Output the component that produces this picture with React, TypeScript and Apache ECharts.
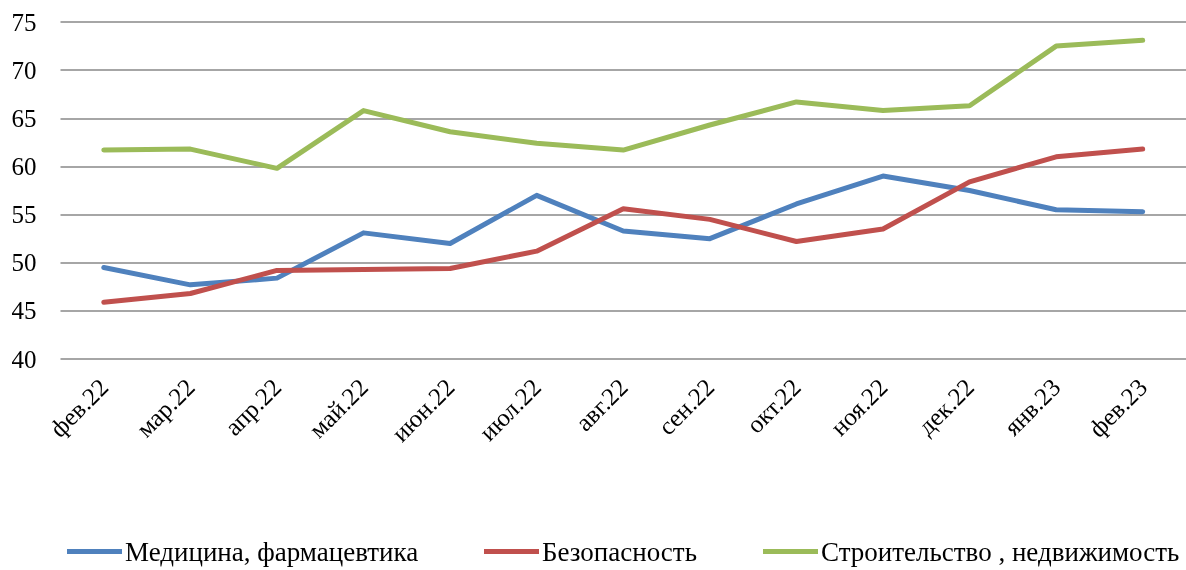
import React, { useEffect, useRef } from "react";
import * as echarts from "echarts";

const categories = ["фев.22", "мар.22", "апр.22", "май.22", "июн.22", "июл.22", "авг.22", "сен.22", "окт.22", "ноя.22", "дек.22", "янв.23", "фев.23"];
const medicine = [49.5, 47.7, 48.4, 53.1, 52.0, 57.0, 53.3, 52.5, 56.1, 59.0, 57.5, 55.5, 55.3];
const security = [45.9, 46.8, 49.2, 49.3, 49.4, 51.2, 55.6, 54.5, 52.2, 53.5, 58.4, 61.0, 61.8];
const construction = [61.7, 61.8, 59.8, 65.8, 63.6, 62.4, 61.7, 64.3, 66.7, 65.8, 66.3, 72.5, 73.1];
const seriesNames = ["Медицина, фармацевтика", "Безопасность", "Строительство , недвижимость"];
const colors = ["#4F81BD", "#C0504D", "#9BBB59"];

export default function App() {
  const ref = useRef<HTMLDivElement>(null);
  useEffect(() => {
    if (!ref.current) return;
    const chart = echarts.init(ref.current, null, { renderer: "svg" });
    const font = "'Liberation Serif', 'Times New Roman', serif";
    const data = [medicine, security, construction];
    const legendLefts = [67, 484, 763];
    chart.setOption({
      animation: false,
      textStyle: { fontFamily: font },
      grid: { left: 60.5, top: 22, width: 1130, height: 337, containLabel: false },
      legend: seriesNames.map((name, i) => ({
        left: legendLefts[i],
        top: 538,
        padding: 0,
        icon: "rect",
        itemWidth: 55,
        itemHeight: 5,
        itemStyle: { borderWidth: 0 },
        textStyle: { fontFamily: font, fontSize: 27, color: "#000", padding: [0, 0, 0, -2] },
        data: [name],
      })),
      xAxis: {
        type: "category",
        data: categories,
        boundaryGap: true,
        axisLine: { show: false },
        axisTick: { show: false },
        axisLabel: { rotate: 45, margin: 24, fontFamily: font, fontSize: 25, color: "#000", interval: 0 },
      },
      yAxis: {
        type: "value",
        min: 40,
        max: 75,
        interval: 5,
        axisLine: { show: false },
        axisTick: { show: false },
        axisLabel: { margin: 24, fontFamily: font, fontSize: 25, color: "#000" },
        splitLine: { lineStyle: { color: "#888888", width: 1.5 } },
      },
      series: seriesNames.map((name, i) => ({
        name,
        type: "line",
        data: data[i],
        symbol: "none",
        lineStyle: { color: colors[i], width: 5, cap: "round", join: "round" },
        itemStyle: { color: colors[i] },
      })),
    });
    return () => chart.dispose();
  }, []);
  return <div ref={ref} style={{ position: "fixed", left: 0, top: 0, width: 1186, height: 570 }} />;
}
